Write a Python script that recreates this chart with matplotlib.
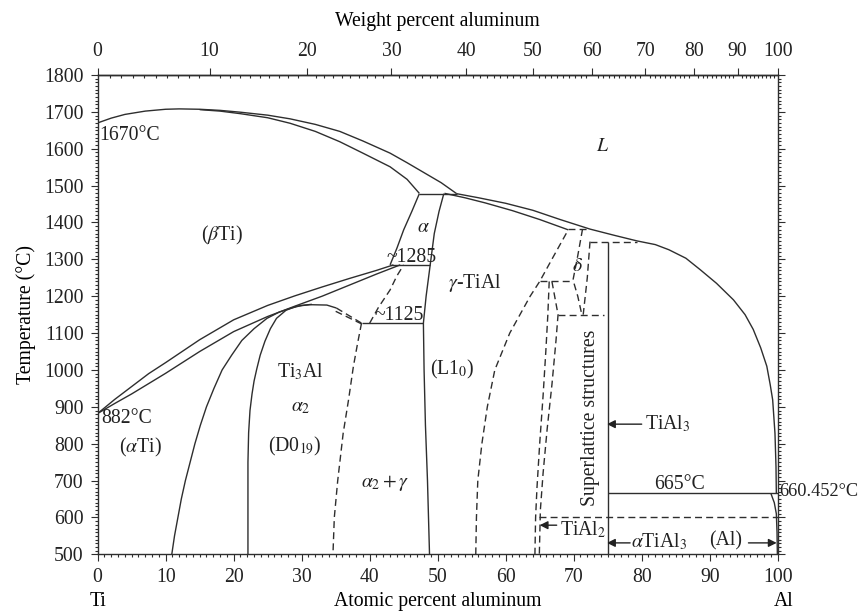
import numpy as np
import matplotlib
matplotlib.use("Agg")
import matplotlib.pyplot as plt
from matplotlib.ticker import MultipleLocator, FixedLocator

# ---- phase boundaries (at.% Al, deg C) ----
liq_ti_x = [0, 2, 4, 7, 10, 12, 15, 18, 21, 25, 28.3, 32, 35.6, 39, 43, 45.5, 48, 50.5, 52.8]
liq_ti_t = [1670, 1683, 1693, 1702, 1707, 1708, 1707, 1704, 1699, 1691, 1681, 1666, 1647, 1621, 1588, 1562, 1535, 1508, 1478]

sol_beta_x = [15, 18, 21, 25, 28.3, 32, 35.6, 39, 43, 45.5, 47.3]
sol_beta_t = [1706, 1702, 1695, 1684, 1669, 1647, 1619, 1588, 1551, 1517, 1479]

liq_gamma_x = [52.8, 56, 60, 64, 68, 72.4, 76, 79.3, 82, 84, 86.5, 88.6, 91, 93.5, 95.2,
               96.4, 97.5, 98.4, 98.9, 99.26, 99.6, 99.75, 99.8]
liq_gamma_t = [1478, 1467, 1452, 1433, 1408, 1382, 1365, 1350, 1340, 1326, 1303, 1272, 1235, 1190, 1150,
               1110, 1060, 1010, 960, 919, 828, 738, 665]

sol_gamma_x = [51, 54, 57, 61, 65, 69.2]
sol_gamma_t = [1479, 1467, 1453, 1432, 1408, 1380]

alpha_left_x = [47.3, 46.2, 45, 44, 43]
alpha_left_t = [1478, 1430, 1380, 1330, 1285]

gamma_left_x = [50.9, 50.2, 49.5, 48.9, 48.3, 47.9, 48.0, 48.2, 48.5, 48.8]
gamma_left_t = [1478, 1430, 1370, 1285, 1200, 1127, 1000, 850, 700, 500]

beta_up_x = [0, 2.5, 5, 7.5, 10, 15, 20, 25, 29, 33, 37, 41, 43.5]
beta_up_t = [882, 920, 955, 990, 1020, 1082, 1136, 1175, 1201, 1225, 1248, 1270, 1285]

beta_lo_x = [0, 2.5, 5, 7.5, 10, 15, 20, 25, 29, 33, 37, 41, 44.5]
beta_lo_t = [882, 909, 935, 963, 991, 1050, 1104, 1145, 1173, 1200, 1230, 1260, 1285]

a2_outer_x = [10.9, 11.3, 11.8, 12.3, 12.9, 13.6, 14.3, 15.1, 16.0, 17.1, 18.3, 19.7, 21.2, 23.0,
              24.9, 26.7, 28.5, 30.0, 31.5]
a2_outer_t = [500, 550, 600, 650, 700, 750, 800, 850, 900, 950, 1000, 1040, 1080, 1112,
              1140, 1157, 1168, 1175, 1178]

a2_inner_x = [22.1, 22.1, 22.2, 22.4, 22.7, 23.0, 23.4, 23.9, 24.6, 25.4, 26.3, 27.7, 29.3, 31.2, 33.7, 35.1]
a2_inner_t = [500, 750, 830, 890, 935, 970, 1003, 1040, 1078, 1112, 1140, 1162, 1173, 1177, 1176, 1168]

a2_right_x = [38.8, 38.2, 37.6, 36.9, 36.1, 35.3, 34.8, 34.6]
a2_right_t = [1127, 1070, 1009, 920, 828, 700, 600, 500]

a2_top_x = [35.1, 38.8]
a2_top_t = [1168, 1127]
a2_top2_x = [35.0, 38.8]
a2_top2_t = [1159, 1125]

ag_x = [40, 41.3, 43, 44, 45]
ag_t = [1127, 1170, 1217, 1255, 1285]

gamma_right_x = [55.6, 55.7, 55.9, 56.5, 57.3, 58.4, 60.6, 63.6, 65, 67, 69.2]
gamma_right_t = [500, 600, 700, 800, 900, 1000, 1100, 1200, 1240, 1307, 1380]

delta_left_x = [71.3, 70.6, 69.9, 70.6, 71.2]
delta_left_t = [1382, 1310, 1244, 1200, 1150]
delta_right_x = [72.4, 72.0, 71.4]
delta_right_t = [1348, 1250, 1150]

tial2_left_x = [66.4, 66.2, 65.9, 65.5, 65.0, 64.6, 64.4, 64.3]
tial2_left_t = [1240, 1150, 1050, 930, 800, 680, 600, 500]
tial2_right_x = [66.8, 67.7, 67.4, 66.8, 66.1, 65.5, 65.1, 64.95]
tial2_right_t = [1240, 1150, 1080, 960, 840, 720, 620, 500]

al_solvus_x = [99.0, 99.5, 99.8, 99.9, 99.95]
al_solvus_t = [665, 640, 610, 560, 500]

# invariant lines: (x_start, x_end, temperature)
solid_isotherms = [(47.3, 52.8, 1478), (43, 48.9, 1285), (38.8, 47.9, 1127), (75, 100, 665)]
dashed_isotherms = [(69.2, 72.4, 1381), (65, 69.9, 1240), (72.4, 79.3, 1348),
                    (67.7, 74.4, 1150), (64.9, 100, 600)]
tial3_x = [75, 75]
tial3_t = [1348, 500]

temp_ticks = list(range(500, 1801, 100))
at_ticks = list(range(0, 101, 10))
wt_ticks = list(range(0, 101, 10))

M_TI, M_AL = 47.87, 26.98


def at_to_wt(a):
    a = np.asarray(a, dtype=float)
    return 100 * a * M_AL / (a * M_AL + (100 - a) * M_TI)


def wt_to_at(w):
    w = np.asarray(w, dtype=float)
    return 100 * (w / M_AL) / (w / M_AL + (100 - w) / M_TI)


plt.rcParams["font.family"] = ["Liberation Serif", "DejaVu Serif"]
plt.rcParams["mathtext.fontset"] = "stix"
FS = 14.2
INK = "#2e2e2e"

fig = plt.figure(figsize=(8.62, 6.14), dpi=100)
ax = fig.add_axes([0.1133, 0.0972, 0.7889, 0.7807])
ax.set_xlim(0, 100)
ax.set_ylim(500, 1800)

solid = dict(color=INK, lw=1.0, solid_capstyle="butt")
dashed = dict(color=INK, lw=1.0, ls=(0, (5, 3)))

for xs, ts in [(liq_ti_x, liq_ti_t), (sol_beta_x, sol_beta_t), (liq_gamma_x, liq_gamma_t),
               (sol_gamma_x, sol_gamma_t), (alpha_left_x, alpha_left_t),
               (gamma_left_x, gamma_left_t), (beta_up_x, beta_up_t), (beta_lo_x, beta_lo_t),
               (a2_outer_x, a2_outer_t), (a2_inner_x, a2_inner_t), (tial3_x, tial3_t),
               (al_solvus_x, al_solvus_t)]:
    ax.plot(xs, ts, **solid)

for xs, ts in [(a2_right_x, a2_right_t), (a2_top_x, a2_top_t), (a2_top2_x, a2_top2_t),
               (ag_x, ag_t), (gamma_right_x, gamma_right_t), (delta_left_x, delta_left_t),
               (delta_right_x, delta_right_t), (tial2_left_x, tial2_left_t),
               (tial2_right_x, tial2_right_t)]:
    ax.plot(xs, ts, **dashed)

for x0, x1, t in solid_isotherms:
    ax.plot([x0, x1], [t, t], **solid)
for x0, x1, t in dashed_isotherms:
    ax.plot([x0, x1], [t, t], **dashed)


# ---- labels ----
def lab(x, t, s, fs=FS, **kw):
    kw.setdefault("ha", "center")
    kw.setdefault("va", "center")
    ax.text(x, t, s, fontsize=fs, color="#222222", **kw)


lab(0.2, 1635, "1670°C", ha="left")
lab(18.3, 1366, r"($\beta$Ti)")
lab(74.3, 1605, r"$L$")
lab(47.9, 1386, r"$\alpha$")
lab(46.2, 1306, "~1285")
lab(44.3, 1149, "~1125")
lab(55.4, 1235, r"$\gamma$-TiAl")
lab(70.5, 1280, r"$\delta$")
lab(29.9, 995, r"Ti$_3$Al")
lab(29.9, 899, r"$\alpha_2$")
lab(29.0, 792, r"(D0$_{19}$)")
lab(42.3, 694, r"$\alpha_2 + \gamma$")
lab(52.2, 1002, r"(L1$_0$)")
lab(0.5, 867, "882°C", ha="left")
lab(6.3, 790, r"($\alpha$Ti)")
lab(72.4, 871, "Superlattice structures", rotation=90)
lab(80.5, 853, r"TiAl$_3$", ha="left")
lab(85.6, 690, "665°C")
lab(100.3, 670, "660.452°C", fs=13.2, ha="left", clip_on=False)
lab(68.0, 566, r"TiAl$_2$", ha="left")
lab(82.6, 534, r"$\alpha$TiAl$_3$")
lab(92.3, 537, "(Al)")

arrow = dict(arrowstyle="-|>", color="#222222", lw=1.0, mutation_scale=12, shrinkA=0, shrinkB=0)
for (x0, t0), (x1, t1) in [((80.0, 853), (74.9, 853)), ((67.5, 579), (65.0, 579)),
                           ((78.3, 531), (74.9, 531)), ((95.7, 531), (99.85, 531))]:
    ax.annotate("", xy=(x1, t1), xytext=(x0, t0), arrowprops=arrow)

# ---- axes ----
for s in ax.spines.values():
    s.set_linewidth(1.0)
    s.set_color(INK)

ax.set_yticks(temp_ticks)
ax.yaxis.set_minor_locator(MultipleLocator(10))
ax.set_xticks(at_ticks)
ax.xaxis.set_minor_locator(MultipleLocator(1))
ax.tick_params(which="both", direction="out", colors=INK, width=0.8,
               labelsize=FS, labelcolor="#222222", right=True, top=False)
ax.tick_params(which="major", length=5, pad=5)
ax.tick_params(which="minor", length=2.5)

top = ax.secondary_xaxis("top", functions=(at_to_wt, wt_to_at))
top.set_xticks(wt_ticks)
top.xaxis.set_minor_locator(FixedLocator(list(range(0, 101))))
top.tick_params(which="both", direction="out", colors=INK, width=0.8,
                labelsize=FS, labelcolor="#222222")
top.tick_params(which="major", length=5, pad=5)
top.tick_params(which="minor", length=2.5, direction="in")
top.spines["top"].set_linewidth(1.0)

ax.text(0.5, 1.111, "Weight percent aluminum", transform=ax.transAxes,
        ha="center", va="center", fontsize=FS)
ax.text(-0.105, 0.5, "Temperature (°C)", transform=ax.transAxes, rotation=90,
        ha="center", va="center", fontsize=FS)
ax.text(0.5, -0.099, "Atomic percent aluminum", transform=ax.transAxes,
        ha="center", va="center", fontsize=FS)
ax.text(0.0, -0.099, "Ti", transform=ax.transAxes, ha="center", va="center", fontsize=FS)
ax.text(1.009, -0.099, "Al", transform=ax.transAxes, ha="center", va="center", fontsize=FS)

fig.savefig("out.png", dpi=100)
